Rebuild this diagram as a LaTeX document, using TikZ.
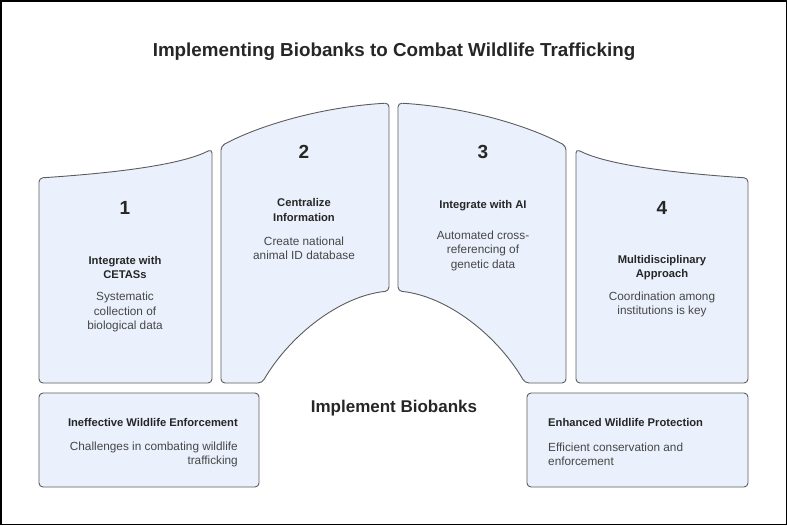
\documentclass[tikz,border=0pt]{standalone}
\usepackage{fontspec}
\setmainfont{Liberation Sans}
\usepackage{xcolor}
\usetikzlibrary{positioning}
\definecolor{panelfill}{HTML}{EBF1FC}
\definecolor{panelline}{HTML}{5C5C5C}
\definecolor{headtext}{HTML}{262626}
\definecolor{bodytext}{HTML}{464646}

\begin{document}
\begin{tikzpicture}[x=1pt, y=-1pt,
  panel/.style={fill=panelfill, draw=panelline, line width=0.9pt, rounded corners=4pt},
  num/.style={font=\bfseries\fontsize{19}{22}\selectfont, text=headtext},
  head/.style={font=\bfseries\fontsize{11.2}{14.5}\selectfont, text=headtext, align=center, inner sep=0pt},
  body/.style={font=\fontsize{11.8}{14.5}\selectfont, text=bodytext, align=center, inner sep=0pt}]
  \useasboundingbox (0,0) rectangle (787,525);
  % outer frame
  \draw[line width=1.5pt] (0.75,0.75) rectangle (786.25,524.25);

  % Title
  \node[font=\bfseries\fontsize{18.8}{22}\selectfont, text=headtext] (title) at (394,52) {Implementing Biobanks to Combat Wildlife Trafficking};

  % Panel 1
  \draw[panel] (39,178) .. controls (130,172) and (185,163) .. (212,149)
    -- (212,383) -- (39,383) -- cycle;
  % Panel 2 (with the arch cut out at its lower right)
  \draw[panel] (221,146) .. controls (258,126) and (320,107) .. (389,103)
    -- (389,291) .. controls (340,296) and (290,335) .. (262,383)
    -- (221,383) -- cycle;
  % Panel 3 (mirror of panel 2)
  \draw[panel] (398,103) .. controls (467,107) and (529,126) .. (566,146)
    -- (566,383) -- (525,383) .. controls (497,335) and (447,296) .. (398,291)
    -- cycle;
  % Panel 4
  \draw[panel] (576,149) .. controls (603,163) and (658,172) .. (748,178)
    -- (748,383) -- (576,383) -- cycle;

  % Panel texts
  \node[num] (n1) at (125,208) {1};
  \node[head] (h1) at (125,267.5) {Integrate with\\CETASs};
  \node[body] (b1) at (125,312) {Systematic\\collection of\\biological data};

  \node[num] (n2) at (304,152) {2};
  \node[head] (h2) at (304,210) {Centralize\\Information};
  \node[body] (b2) at (304,248.5) {Create national\\animal ID database};

  \node[num] (n3) at (483,152) {3};
  \node[head] (h3) at (483,206) {Integrate with AI};
  \node[body] (b3) at (483,250.5) {Automated cross-\\referencing of\\genetic data};

  \node[num] (n4) at (662,208) {4};
  \node[head] (h4) at (662,267.5) {Multidisciplinary\\Approach};
  \node[body] (b4) at (662,304.5) {Coordination among\\institutions is key};

  % Centre label under the arch
  \node[font=\bfseries\fontsize{17}{20}\selectfont, text=headtext] (impl) at (394,408) {Implement Biobanks};

  % Bottom boxes
  \draw[panel] (39,393) rectangle (259,487);
  \node[head, anchor=east] (hl) at (238,422) {Ineffective Wildlife Enforcement};
  \node[body, align=right, anchor=east] (bl) at (238,454.5) {Challenges in combating wildlife\\trafficking};

  \draw[panel] (527,393) rectangle (748,487);
  \node[head, anchor=west] (hr) at (548,422) {Enhanced Wildlife Protection};
  \node[body, align=left, anchor=west] (br) at (548,454.5) {Efficient conservation and\\enforcement};
\end{tikzpicture}
\end{document}
